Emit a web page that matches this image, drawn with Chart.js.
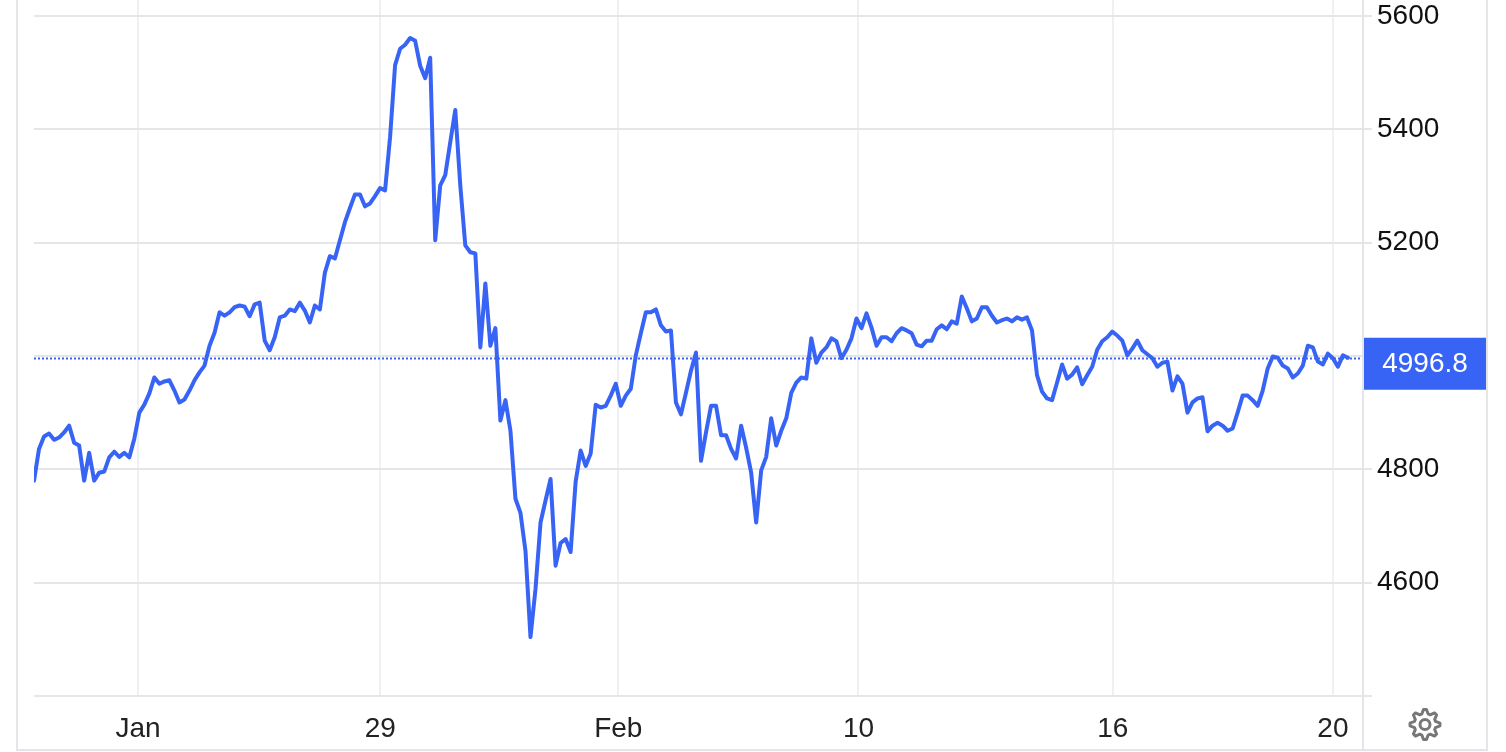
<!DOCTYPE html>
<html>
<head>
<meta charset="utf-8">
<script src="https://cdn.jsdelivr.net/npm/chart.js@4.4.1/dist/chart.umd.min.js"></script>
<style>
  html, body { margin: 0; padding: 0; background: #fff; }
  #wrap { width: 1506px; height: 752px; }
</style>
</head>
<body>
<div id="wrap"><canvas id="chart" width="1506" height="752"></canvas></div>
<script>
// price samples, evenly spaced, oldest first
const prices = [
  4780, 4836, 4858, 4863, 4852, 4856, 4865, 4877, 4847, 4842,
  4780, 4829, 4780, 4794, 4796, 4821, 4831, 4822, 4829, 4821,
  4854, 4900, 4914, 4934, 4962, 4951, 4955, 4957, 4939, 4918,
  4923, 4939, 4957, 4971, 4983, 5018, 5041, 5077, 5071, 5077,
  5086, 5089, 5087, 5070, 5091, 5094, 5027, 5010, 5033, 5068,
  5071, 5082, 5079, 5094, 5080, 5059, 5089, 5082, 5147, 5176,
  5172, 5204, 5236, 5261, 5285, 5285, 5264, 5269, 5282, 5296,
  5292, 5386, 5513, 5542, 5549, 5561, 5556, 5512, 5490, 5526,
  5204, 5301, 5319, 5377, 5434, 5301, 5195, 5183, 5181, 5015,
  5128, 5018, 5049, 4886, 4922, 4868, 4748, 4723, 4656, 4504,
  4589, 4706, 4745, 4783, 4630, 4670, 4677, 4654, 4778, 4833,
  4806, 4828, 4914, 4909, 4912, 4930, 4951, 4912, 4930, 4942,
  5001, 5040, 5077, 5077, 5082, 5054, 5043, 5045, 4918, 4897,
  4935, 4974, 5006, 4815, 4865, 4912, 4912, 4860, 4860, 4836,
  4819, 4877, 4838, 4794, 4706, 4798, 4822, 4890, 4842, 4868,
  4890, 4935, 4953, 4962, 4960, 5031, 4988, 5006, 5015, 5031,
  5026, 4996, 5011, 5031, 5066, 5049, 5075, 5050, 5018, 5033,
  5033, 5026, 5040, 5049, 5045, 5040, 5020, 5017, 5027, 5027,
  5047, 5054, 5047, 5061, 5057, 5105, 5084, 5061, 5066, 5086,
  5086, 5071, 5059, 5063, 5066, 5061, 5068, 5064, 5068, 5045,
  4966, 4937, 4925, 4922, 4953, 4985, 4960, 4967, 4980, 4950,
  4966, 4981, 5011, 5026, 5033, 5043, 5036, 5027, 5001, 5013,
  5027, 5010, 5003, 4996, 4981, 4988, 4990, 4939, 4964, 4951,
  4900, 4918, 4925, 4927, 4867, 4877, 4882, 4877, 4868, 4872,
  4900, 4930, 4930, 4922, 4912, 4939, 4978, 4999, 4997, 4983,
  4978, 4962, 4969, 4983, 5018, 5015, 4990, 4985, 5004, 4996,
  4981, 5001, 4996.8
];

// x-axis labels and where they sit (in sample index units)
const tickLabels = ['Jan', '29', 'Feb', '10', '16', '20'];
const tickIdx = [20.75, 69.05, 116.5, 164.4, 215.1, 259.0];

// y-axis ticks
const yTicks = [4400, 4600, 4800, 5000, 5200, 5400, 5600];

const lineBlue = '#3864f5';
const fontFamily = 'Helvetica, "Liberation Sans", Arial, sans-serif';
const lastPrice = prices[prices.length - 1];

const overlay = {
  id: 'overlay',
  beforeDatasetsDraw(chart) {
    const { ctx, chartArea, scales } = chart;
    const y = Math.round(scales.y.getPixelForValue(lastPrice)) + 0.5;
    ctx.save();
    ctx.strokeStyle = lineBlue;
    ctx.lineWidth = 2;
    ctx.setLineDash([2, 2]);
    ctx.beginPath();
    ctx.moveTo(chartArea.left, y);
    ctx.lineTo(chartArea.right, y);
    ctx.stroke();
    ctx.restore();
  },
  afterDraw(chart) {
    const { ctx, chartArea, scales } = chart;
    ctx.save();
    // frame
    ctx.strokeStyle = '#e4e4e9';
    ctx.lineWidth = 2;
    ctx.beginPath();
    ctx.moveTo(17, 0); ctx.lineTo(17, 750);
    ctx.lineTo(1487, 750); ctx.lineTo(1487, 0);
    ctx.moveTo(chartArea.right, 0); ctx.lineTo(chartArea.right, 750);
    ctx.stroke();

    // last price box
    const y = scales.y.getPixelForValue(lastPrice);
    ctx.fillStyle = lineBlue;
    ctx.fillRect(chartArea.right + 1, y - 20, 122, 52);
    ctx.fillStyle = '#fff';
    ctx.font = '28px ' + fontFamily;
    ctx.textAlign = 'center';
    ctx.textBaseline = 'middle';
    ctx.fillText(lastPrice.toFixed(1), chartArea.right + 62, y + 7);

    // settings gear
    const cx = 1425, cy = 724.5;
    ctx.strokeStyle = '#777';
    ctx.lineWidth = 3;
    ctx.lineJoin = 'round';
    ctx.beginPath();
    const teeth = 8;
    for (let i = 0; i < teeth * 4; i++) {
      const a = (i / (teeth * 4)) * Math.PI * 2 - Math.PI / 2 - Math.PI / (teeth * 4);
      const r = (i % 4 === 0 || i % 4 === 1) ? 15 : 11;
      const px = cx + r * Math.cos(a), py = cy + r * Math.sin(a);
      if (i === 0) ctx.moveTo(px, py); else ctx.lineTo(px, py);
    }
    ctx.closePath();
    ctx.stroke();
    ctx.beginPath();
    ctx.arc(cx, cy, 5, 0, Math.PI * 2);
    ctx.stroke();
    ctx.restore();
  }
};

new Chart(document.getElementById('chart'), {
  type: 'line',
  data: {
    datasets: [{
      data: prices.map((p, i) => ({ x: i, y: p })),
      borderColor: lineBlue,
      borderWidth: 4,
      borderJoinStyle: 'round',
      borderCapStyle: 'round',
      pointRadius: 0,
      tension: 0,
      fill: false
    }]
  },
  options: {
    responsive: false,
    animation: false,
    layout: { padding: { left: 34, top: 0, right: 0, bottom: 0 } },
    plugins: { legend: { display: false }, tooltip: { enabled: false } },
    scales: {
      x: {
        type: 'linear',
        min: 0,
        max: 265,
        afterBuildTicks: s => { s.ticks = tickIdx.map(v => ({ value: v })); },
        afterFit: s => { s.height = 56; s.paddingLeft = 0; s.paddingRight = 0; },
        border: { display: false },
        grid: { color: '#eef0f4', lineWidth: 2, drawTicks: false },
        ticks: {
          padding: 16,
          maxRotation: 0,
          autoSkip: false,
          color: '#222',
          font: { size: 28, family: fontFamily },
          callback: (v, i) => tickLabels[i]
        }
      },
      y: {
        position: 'right',
        min: 4400,
        max: 5628,
        afterBuildTicks: s => { s.ticks = yTicks.map(v => ({ value: v })); },
        afterFit: s => { s.width = 143; s.paddingTop = 0; s.paddingBottom = 0; },
        border: { display: false },
        grid: { color: '#e6e6e8', lineWidth: 2, tickLength: 9 },
        ticks: {
          padding: 5,
          color: '#111',
          font: { size: 28, family: fontFamily },
          callback: v => (v === 4400 ? '' : String(v))
        }
      }
    }
  },
  plugins: [overlay]
});
</script>
</body>
</html>
